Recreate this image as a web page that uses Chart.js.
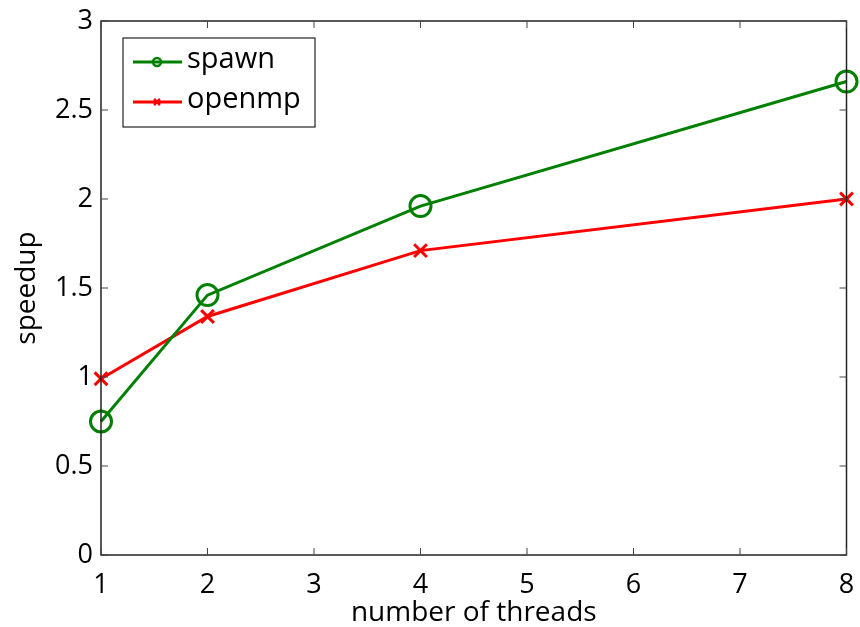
<!DOCTYPE html>
<html><head><meta charset="utf-8">
<script src="https://cdn.jsdelivr.net/npm/chart.js@4"></script>
<style>html,body{margin:0;padding:0;background:#fff}#w{width:860px;height:627px}</style>
</head><body><div id="w"><canvas id="c" width="860" height="627"></canvas></div>
<script>
const threads = [1, 2, 4, 8];
const spawnSpeedup = [0.75, 1.46, 1.96, 2.66];
const openmpSpeedup = [0.99, 1.34, 1.71, 2.0];
const seriesNames = ['spawn', 'openmp'];
const xTitle = 'number of threads';
const yTitle = 'speedup';

const FONT = 'Open Sans';
const GREEN = '#008000', RED = '#ff0000';

const boxPlugin = {
  id: 'box',
  afterDatasetsDraw(chart) {
    const {ctx, chartArea: a, scales} = chart;
    ctx.save();
    ctx.strokeStyle = '#222';
    ctx.lineWidth = 1.5;
    ctx.strokeRect(a.left, a.top, a.right - a.left, a.bottom - a.top);
    ctx.lineWidth = 1;
    ctx.strokeStyle = '#444';
    const L = 7;
    scales.x.ticks.forEach(t => {
      const px = scales.x.getPixelForValue(t.value);
      ctx.beginPath();
      ctx.moveTo(px, a.bottom); ctx.lineTo(px, a.bottom - L);
      ctx.moveTo(px, a.top); ctx.lineTo(px, a.top + L);
      ctx.stroke();
    });
    scales.y.ticks.forEach(t => {
      const py = scales.y.getPixelForValue(t.value);
      ctx.beginPath();
      ctx.moveTo(a.left, py); ctx.lineTo(a.left + L, py);
      ctx.moveTo(a.right, py); ctx.lineTo(a.right - L, py);
      ctx.stroke();
    });
    // legend
    const lx = 123, ly = 38, lw = 192, lh = 89;
    ctx.fillStyle = '#fff';
    ctx.fillRect(lx, ly, lw, lh);
    ctx.strokeStyle = '#222';
    ctx.lineWidth = 1.2;
    ctx.strokeRect(lx, ly, lw, lh);
    chart.data.datasets.forEach((ds, i) => {
      const y = ly + 24 + i * 40;
      ctx.strokeStyle = ds.borderColor;
      ctx.lineWidth = 3;
      ctx.beginPath(); ctx.moveTo(133, y); ctx.lineTo(182, y); ctx.stroke();
      ctx.lineWidth = 2.5;
      if (i === 0) {
        ctx.beginPath(); ctx.arc(157, y, 4, 0, Math.PI * 2); ctx.stroke();
      } else {
        ctx.beginPath();
        ctx.moveTo(154, y - 3); ctx.lineTo(160, y + 3);
        ctx.moveTo(160, y - 3); ctx.lineTo(154, y + 3);
        ctx.stroke();
      }
      ctx.fillStyle = '#000';
      ctx.font = '29px "' + FONT + '"';
      ctx.textBaseline = 'middle';
      ctx.textAlign = 'left';
      ctx.fillText(ds.label, 187, y - 2);
    });
    ctx.restore();
  }
};

new Chart(document.getElementById('c'), {
  type: 'line',
  data: {
    datasets: [
      {label: seriesNames[0], data: threads.map((t, i) => ({x: t, y: spawnSpeedup[i]})),
       borderColor: GREEN, backgroundColor: 'rgba(0,0,0,0)', borderWidth: 3,
       pointStyle: 'circle', pointRadius: 10.5, pointBorderWidth: 3, pointBorderColor: GREEN,
       pointBackgroundColor: 'rgba(0,0,0,0)', tension: 0, clip: false},
      {label: seriesNames[1], data: threads.map((t, i) => ({x: t, y: openmpSpeedup[i]})),
       borderColor: RED, backgroundColor: 'rgba(0,0,0,0)', borderWidth: 3,
       pointStyle: 'crossRot', pointRadius: 9, pointBorderWidth: 3, pointBorderColor: RED,
       tension: 0, clip: false}
    ]
  },
  options: {
    responsive: false, animation: false,
    layout: {padding: {top: 21, right: 12, left: 0, bottom: 0}},
    plugins: {legend: {display: false}, tooltip: {enabled: false}},
    scales: {
      x: {type: 'linear', min: 1, max: 8,
          ticks: {stepSize: 1, color: '#000', font: {family: FONT, size: 27}, padding: 14,
                  callback: v => String(v)},
          grid: {display: false, drawTicks: false}, border: {display: false},
          title: {display: true, text: xTitle, color: '#000', font: {family: FONT, size: 28, lineHeight: 1}, padding: {top: 0, bottom: 0}},
          afterFit(s) { s.height = 72; s.paddingLeft = 0; s.paddingRight = 0; }},
      y: {type: 'linear', min: 0, max: 3,
          ticks: {stepSize: 0.5, color: '#000', font: {family: FONT, size: 27}, padding: 8,
                  callback: v => String(v)},
          grid: {display: false, drawTicks: false}, border: {display: false},
          title: {display: true, text: yTitle, color: '#000', font: {family: FONT, size: 28, lineHeight: 1}, padding: {top: 13, bottom: 0}},
          afterFit(s) { s.width = 101; s.paddingTop = 0; s.paddingBottom = 0; }}
    }
  },
  plugins: [boxPlugin]
});
</script>
</body></html>
